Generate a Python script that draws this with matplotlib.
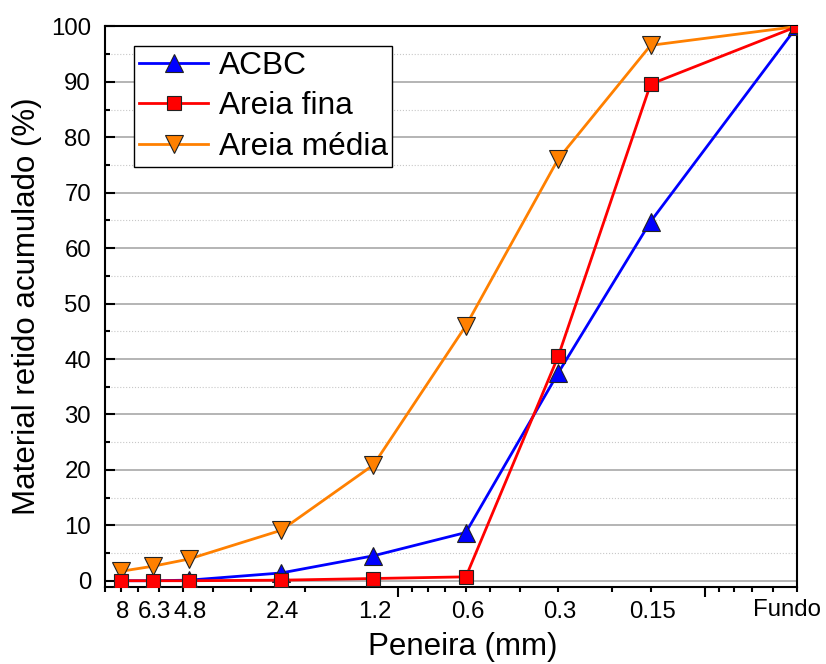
"""Granulometric curves: cumulative retained material per sieve."""

import matplotlib
matplotlib.use("Agg")
import matplotlib.pyplot as plt
from matplotlib.ticker import FixedLocator, NullFormatter
from matplotlib.transforms import offset_copy

plt.rcParams["font.family"] = ["Liberation Sans", "DejaVu Sans"]

# sieve openings (mm); the pan ("Fundo") sits at the right edge of the axis
sieve_labels = ["8", "6.3", "4.8", "2.4", "1.2", "0.6", "0.3", "0.15", "Fundo"]
sieve_pos = [8, 6.3, 4.8, 2.4, 1.2, 0.6, 0.3, 0.15, 0.05]

acbc = [0.0, 0.0, 0.1, 1.4, 4.5, 8.7, 37.5, 64.8, 100.0]
areia_fina = [0.0, 0.0, 0.0, 0.1, 0.4, 0.7, 40.5, 89.6, 100.0]
areia_media = [1.7, 2.6, 3.9, 9.1, 20.9, 46.0, 76.1, 96.6, 100.0]

fig = plt.figure(figsize=(8.26, 6.64), dpi=100)
ax = fig.add_axes([0.1271, 0.1164, 0.8378, 0.8437])

edge = "#222222"
ax.plot(sieve_pos, acbc, color="#0000FF", lw=2, marker="^", ms=13,
        mfc="#0000FF", mec=edge, mew=0.8, label="ACBC", zorder=3)
ax.plot(sieve_pos, areia_fina, color="#FF0000", lw=2, marker="s", ms=9.5,
        mfc="#FF0000", mec=edge, mew=0.8, label="Areia fina", zorder=5)
ax.plot(sieve_pos, areia_media, color="#FF8000", lw=2, marker="v", ms=13,
        mfc="#FF8000", mec=edge, mew=0.8, label="Areia média", zorder=4)

ax.set_xscale("log")
ax.set_xlim(9, 0.05)
ax.set_ylim(-1.08, 100)

# decade ticks long, log minor ticks short, no numbers on them
ax.xaxis.set_major_locator(FixedLocator([1, 0.1]))
minor = [m * d for d in (1, 0.1, 0.01) for m in range(2, 10)] + [0.15]
ax.xaxis.set_minor_locator(FixedLocator(minor))
ax.xaxis.set_major_formatter(NullFormatter())
ax.xaxis.set_minor_formatter(NullFormatter())
ax.tick_params(axis="x", which="major", direction="out", length=7, width=1.5)
ax.tick_params(axis="x", which="minor", direction="out", length=3.5, width=1.5)

# sieve names sit under their data positions (the pan label is pulled inside)
base = ax.get_xaxis_transform()
for xp, lab in zip(sieve_pos, sieve_labels):
    if lab == "Fundo":
        tr = offset_copy(base, fig=fig, x=-10, y=2.5, units="dots")
    else:
        tr = offset_copy(base, fig=fig, x=1.5, y=0, units="dots")
    ax.text(xp, -0.0559, lab, transform=tr,
            ha="center", va="baseline", fontsize=17.3)

ax.yaxis.set_major_locator(FixedLocator(range(0, 101, 10)))
ax.yaxis.set_minor_locator(FixedLocator(range(5, 100, 10)))
ax.tick_params(axis="y", which="major", direction="in", length=7, width=1.5,
               labelsize=17.3, pad=10)
ax.tick_params(axis="y", which="minor", direction="in", length=3.5, width=1.5)

ax.grid(True, axis="y", which="major", color="#a8a8a8", lw=1.2, zorder=0)
ax.grid(True, axis="y", which="minor", color="#c8c8c8", lw=0.8, ls=":", zorder=0)
ax.set_axisbelow(True)

for sp in ax.spines.values():
    sp.set_linewidth(1.5)

ax.set_xlabel("Peneira (mm)", fontsize=22.5)
ax.xaxis.set_label_coords(0.517, -0.081)
ax.set_ylabel("Material retido acumulado (%)", fontsize=22.5)
ax.yaxis.set_label_coords(-0.0915, 0.5)

leg = ax.legend(loc="upper left", bbox_to_anchor=(0.042, 0.965),
                borderaxespad=0, fontsize=22.8, frameon=True, fancybox=False,
                borderpad=0.15, labelspacing=0.33, handlelength=2.2,
                handletextpad=0.32)
leg.get_frame().set_edgecolor("black")
leg.get_frame().set_linewidth(1.0)
leg.get_frame().set_alpha(1)

fig.savefig("out.png", dpi=100)
